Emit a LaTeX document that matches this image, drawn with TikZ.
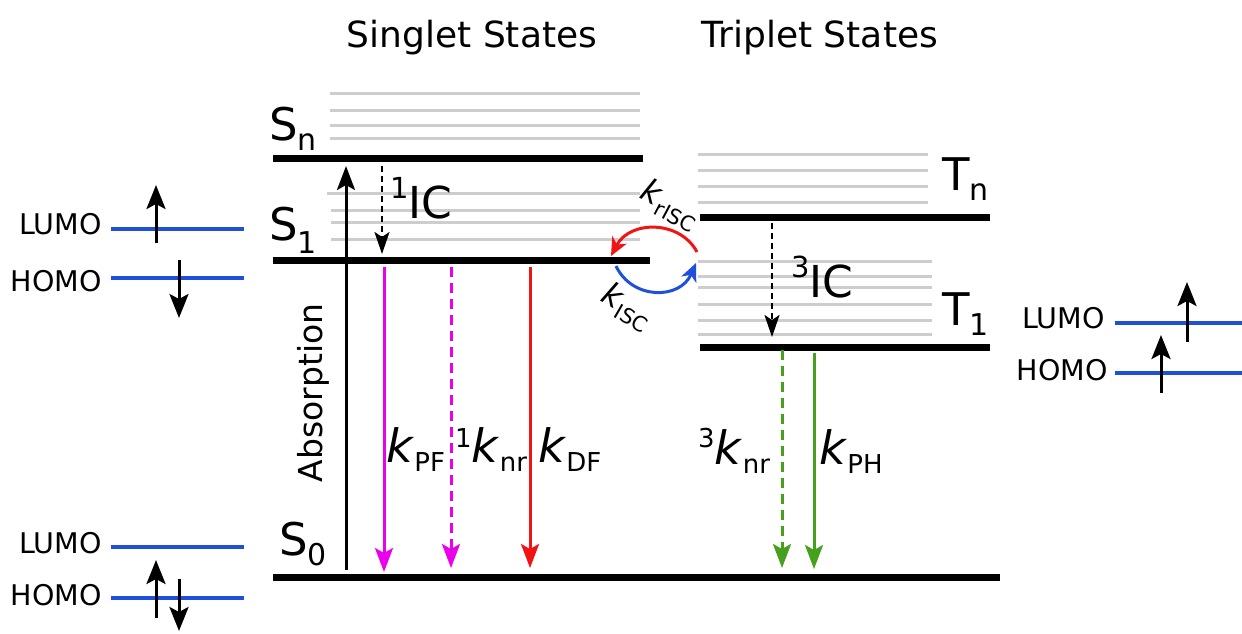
\documentclass[tikz,border=0pt]{standalone}
\usepackage{fontspec}
\setmainfont{DejaVu Sans}
\usetikzlibrary{arrows.meta}
\definecolor{mymag}{RGB}{235,0,235}
\definecolor{myred}{RGB}{240,20,20}
\definecolor{mygreen}{RGB}{70,160,30}
\definecolor{myblue}{RGB}{30,80,220}
\definecolor{mygrey}{RGB}{205,205,205}
\newcommand\fs[1]{\fontsize{#1}{#1}\selectfont}
\newcommand\kk{\textit{k}}
\begin{document}
\begin{tikzpicture}[x=1pt,y=-1pt,
  level/.style={line width=7pt},
  sublevel/.style={draw=mygrey,line width=3pt},
  mo/.style={draw=myblue,line width=3.2pt},
  spin/.style={line width=3pt,-{Stealth[length=24pt,width=19pt,inset=5pt]}},
  trans/.style={line width=3pt,-{Stealth[length=24pt,width=18pt,inset=5pt]}},
  icarrow/.style={line width=2.5pt,dash pattern=on 6pt off 4pt,-{Stealth[length=22pt,width=15pt,inset=5pt]}},
  curv/.style={line width=3pt,-{Stealth[length=18pt,width=16pt,inset=5pt]}},
  lbl/.style={inner sep=0pt,anchor=base west},
  moLbl/.style={inner sep=0pt,anchor=base east,font=\fs{28.5}},
]
\useasboundingbox (0,0) rectangle (1242,633);
% grey sublevels
\foreach \y in {93,110,125.5,138.5} \draw[sublevel] (330,\y) -- (640,\y);
\draw[sublevel] (327,193) -- (640,193);
\foreach \y in {210.5,222.5,239} \draw[sublevel] (331,\y) -- (640,\y);
\foreach \y in {154,170,186,202} \draw[sublevel] (698,\y) -- (928,\y);
\foreach \y in {261,276,287,304,320,334} \draw[sublevel] (698,\y) -- (932,\y);
% main levels
\draw[level] (273,158.5) -- (643,158.5);
\draw[level] (273,260) -- (650,260);
\draw[level] (700,217) -- (990,217);
\draw[level] (700,347) -- (990,347);
\draw[level] (273,577) -- (1000,577);
% titles
\node[inner sep=0pt,anchor=base] (tS) at (472,47) {\fs{36}Singlet States};
\node[inner sep=0pt,anchor=base] (tT) at (820,47) {\fs{36}Triplet States};
% level labels
\node[lbl] (lSn) at (269,140) {\fs{45}S\raisebox{-10pt}{\fs{30}n}};
\node[lbl] (lS1) at (269,240) {\fs{45}S\raisebox{-13pt}{\fs{30}1}};
\node[lbl] (lS0) at (279,555) {\fs{45}S\raisebox{-10pt}{\fs{30}0}};
\node[lbl] (lTn) at (942,190) {\fs{45}T\raisebox{-10pt}{\fs{30}n}};
\node[lbl] (lT1) at (942,325) {\fs{45}T\raisebox{-10pt}{\fs{30}1}};
% transitions
\coordinate (a0) at (346,570); \coordinate (a1) at (346,166);
\draw[trans] (a0) -- (a1);
\node[inner sep=0pt,rotate=90] (lAbs) at (313,393) {\fs{33}Absorption};
\coordinate (ic0) at (382,166); \coordinate (ic1) at (382,254);
\draw[icarrow] (ic0) -- (ic1);
\node[lbl] (lIC1) at (390,218) {\raisebox{20pt}{\fs{29}1}\fs{44}IC};
\coordinate (pf0) at (384,267); \coordinate (pf1) at (384,572);
\draw[trans,mymag] (pf0) -- (pf1);
\coordinate (nr0) at (451,267); \coordinate (nr1) at (451,568);
\draw[trans,mymag,dash pattern=on 10pt off 6pt] (nr0) -- (nr1);
\coordinate (df0) at (530,267); \coordinate (df1) at (530,568);
\draw[trans,myred] (df0) -- (df1);
\coordinate (tic0) at (772,223); \coordinate (tic1) at (772,337);
\draw[icarrow] (tic0) -- (tic1);
\node[lbl] (lIC3) at (791,297) {\raisebox{20pt}{\fs{29}3}\fs{44}IC};
\coordinate (tnr0) at (782,350); \coordinate (tnr1) at (782,568);
\draw[trans,mygreen,dash pattern=on 10pt off 6pt] (tnr0) -- (tnr1);
\coordinate (ph0) at (814,353); \coordinate (ph1) at (814,569);
\draw[trans,mygreen] (ph0) -- (ph1);
\node[lbl] (lPF) at (386,462) {{\fs{46}\kk}\raisebox{-9pt}{\fs{26}PF}};
\node[lbl] (lnr1) at (455,462) {\raisebox{15pt}{\fs{26}1}{\fs{46}\kk}\raisebox{-9pt}{\fs{26}nr}};
\node[lbl] (lDF) at (538,462) {{\fs{46}\kk}\raisebox{-9pt}{\fs{26}DF}};
\node[lbl] (lnr3) at (698,464) {\raisebox{17pt}{\fs{26}3}{\fs{46}\kk}\raisebox{-9pt}{\fs{26}nr}};
\node[lbl] (lPH) at (819,464) {{\fs{46}\kk}\raisebox{-9pt}{\fs{26}PH}};
% ISC / rISC
\coordinate (r0) at (697,252); \coordinate (r1) at (611,256);
\draw[curv,myred] (r0) .. controls (680,220) and (630,220) .. (r1);
\coordinate (b0) at (616,266); \coordinate (b1) at (696,263);
\draw[curv,myblue] (b0) .. controls (632,300) and (680,300) .. (b1);
\node[inner sep=0pt,rotate=-28] (lrisc) at (670,205) {{\fs{32}\kk}\raisebox{-7pt}{\fs{21}rISC}};
\node[inner sep=0pt,rotate=-30] (lisc) at (627,307) {{\fs{32}\kk}\raisebox{-7pt}{\fs{21}ISC}};
% MO diagrams left top
\draw[mo] (111,229) -- (244,229);
\draw[mo] (111,278) -- (244,278);
\node[moLbl] (L1) at (102,234) {LUMO};
\node[moLbl] (H1) at (102,291) {HOMO};
\coordinate (s1a) at (156,243); \coordinate (s1b) at (156,185);
\draw[spin] (s1a) -- (s1b);
\coordinate (s2a) at (179,260); \coordinate (s2b) at (179,318);
\draw[spin] (s2a) -- (s2b);
% MO left bottom
\draw[mo] (111,547) -- (244,547);
\draw[mo] (111,598) -- (244,598);
\node[moLbl] (L0) at (102,553) {LUMO};
\node[moLbl] (H0) at (102,605) {HOMO};
\coordinate (s3a) at (156,618); \coordinate (s3b) at (156,560);
\draw[spin] (s3a) -- (s3b);
\coordinate (s4a) at (179,579); \coordinate (s4b) at (179,631);
\draw[spin] (s4a) -- (s4b);
% MO right
\draw[mo] (1115,323) -- (1242,323);
\draw[mo] (1115,373) -- (1242,373);
\node[moLbl] (LT) at (1105,328) {LUMO};
\node[moLbl] (HT) at (1108,380) {HOMO};
\coordinate (s5a) at (1187,342); \coordinate (s5b) at (1187,282);
\draw[spin] (s5a) -- (s5b);
\coordinate (s6a) at (1161,393); \coordinate (s6b) at (1161,335);
\draw[spin] (s6a) -- (s6b);
\end{tikzpicture}
\end{document}
